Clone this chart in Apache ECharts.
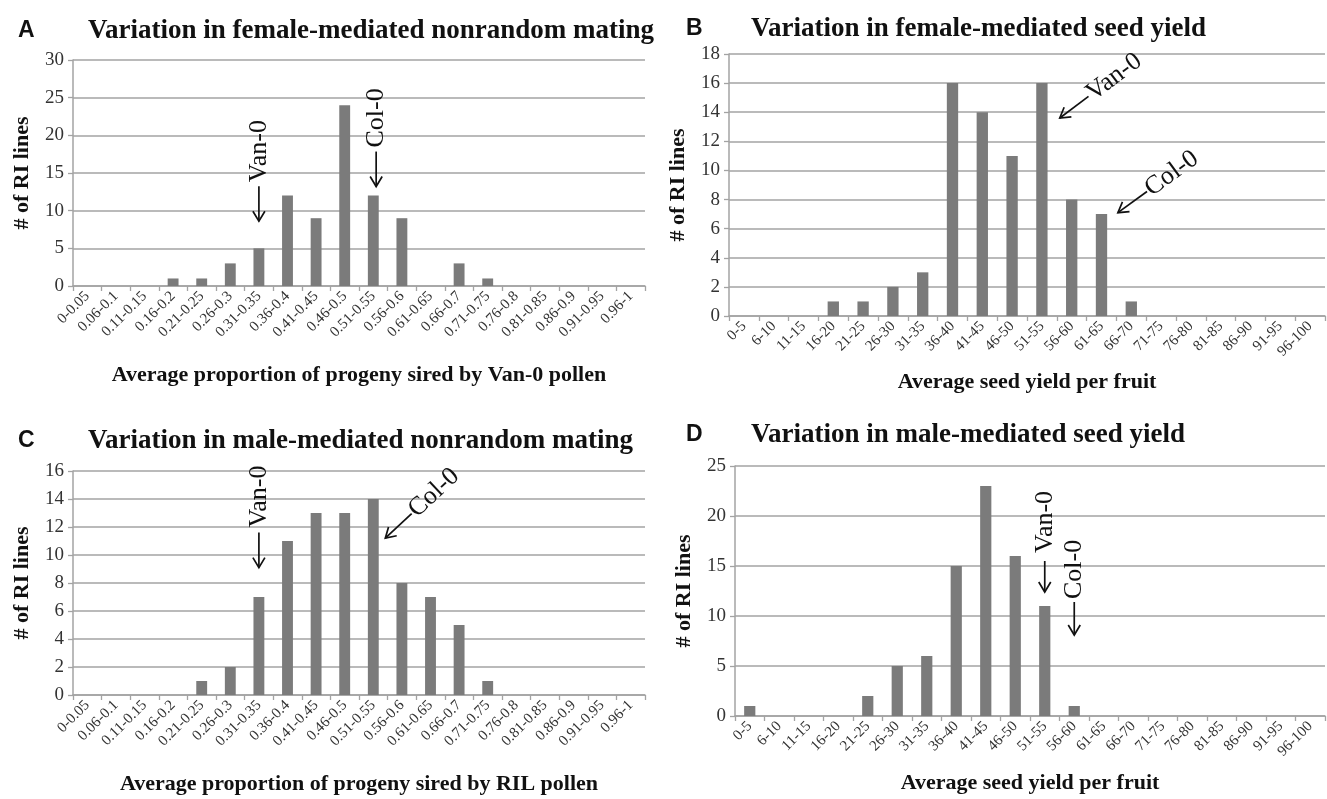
<!DOCTYPE html>
<html>
<head>
<meta charset="utf-8">
<script src="https://cdn.jsdelivr.net/npm/echarts@6/dist/echarts.min.js"></script>
<style>
html,body{margin:0;padding:0;background:#fff;}
#c{width:1327px;height:799px;}
</style>
</head>
<body>
<div id="c"></div>
<script>
// ---- data ----
const catsProportion = ['0-0.05','0.06-0.1','0.11-0.15','0.16-0.2','0.21-0.25','0.26-0.3','0.31-0.35','0.36-0.4','0.41-0.45','0.46-0.5','0.51-0.55','0.56-0.6','0.61-0.65','0.66-0.7','0.71-0.75','0.76-0.8','0.81-0.85','0.86-0.9','0.91-0.95','0.96-1'];
const catsSeed = ['0-5','6-10','11-15','16-20','21-25','26-30','31-35','36-40','41-45','46-50','51-55','56-60','61-65','66-70','71-75','76-80','81-85','86-90','91-95','96-100'];

const valuesA = [0,0,0,1,1,3,5,12,9,24,12,9,0,3,1,0,0,0,0,0];
const valuesB = [0,0,0,1,1,2,3,16,14,11,16,8,7,1,0,0,0,0,0,0];
const valuesC = [0,0,0,0,1,2,7,11,13,13,14,8,7,5,1,0,0,0,0,0];
const valuesD = [1,0,0,0,2,5,6,15,23,16,11,1,0,0,0,0,0,0,0,0];

const panelLetters = ['A','B','C','D'];
const panelTitles = [
  'Variation in female-mediated nonrandom mating',
  'Variation in female-mediated seed yield',
  'Variation in male-mediated nonrandom mating',
  'Variation in male-mediated seed yield'
];
const xTitles = [
  'Average proportion of progeny sired by Van-0 pollen',
  'Average seed yield per fruit',
  'Average proportion of progeny sired by RIL pollen',
  'Average seed yield per fruit'
];
const yTitle = '# of RI lines';
const yMax = [30, 18, 16, 25];
const yStep = [5, 2, 2, 5];

// annotations: panel, label, category, value the arrow points at
const annotations = [
  {panel:0, label:'Van-0', cat:'0.31-0.35', value:8.6},
  {panel:0, label:'Col-0', cat:'0.51-0.55', value:13.2},
  {panel:1, label:'Van-0', cat:'51-55', value:13.6},
  {panel:1, label:'Col-0', cat:'61-65', value:7.1},
  {panel:2, label:'Van-0', cat:'0.31-0.35', value:9.1},
  {panel:2, label:'Col-0', cat:'0.51-0.55', value:11.2},
  {panel:3, label:'Van-0', cat:'51-55', value:12.4},
  {panel:3, label:'Col-0', cat:'56-60', value:8.1}
];

// ---- layout / style ----
const SERIF = '"Liberation Serif", "Times New Roman", serif';
const SANS = '"Liberation Sans", Arial, sans-serif';
const GRID_COLOR = '#a3a3a3';
const BAR_COLOR = '#7b7b7b';

const grids = [
  {left:73, top:60, width:572, height:226},
  {left:729, top:54, width:596, height:262},
  {left:73, top:471, width:572, height:224},
  {left:735, top:466, width:590, height:250}
];
const letterPos = [[13,14],[681,12],[13,424],[681,418]];
const titlePos = [[83,13],[746,11],[83,423],[746,417]];
const xNameGap = [78, 55, 78, 56];
const catsFor = [catsProportion, catsSeed, catsProportion, catsSeed];
const valuesFor = [valuesA, valuesB, valuesC, valuesD];

const titles = [];
for (let i = 0; i < 4; i++) {
  titles.push({text: panelLetters[i], left: letterPos[i][0], top: letterPos[i][1],
    textStyle:{fontFamily:SANS, fontWeight:'bold', fontSize:23, color:'#111'}});
  titles.push({text: panelTitles[i], left: titlePos[i][0], top: titlePos[i][1],
    textStyle:{fontFamily:SERIF, fontWeight:'bold', fontSize:27, color:'#111'}});
}

const option = {
  animation:false,
  backgroundColor:'#ffffff',
  title: titles,
  grid: grids.map(g => Object.assign({containLabel:false}, g)),
  xAxis: catsFor.map((cats, i) => ({
    type:'category', gridIndex:i, data:cats, boundaryGap:true,
    axisLine:{show:true, lineStyle:{color:GRID_COLOR, width:1.5}},
    axisTick:{show:true, length:5, lineStyle:{color:GRID_COLOR, width:1.3}},
    axisLabel:{interval:0, rotate:45, fontFamily:SERIF, fontSize:15, color:'#333', margin:8},
    name: xTitles[i], nameLocation:'middle', nameGap:xNameGap[i],
    nameTextStyle:{fontFamily:SERIF, fontWeight:'bold', fontSize:22, color:'#111'}
  })),
  yAxis: yMax.map((m, i) => ({
    type:'value', gridIndex:i, min:0, max:m, interval:yStep[i],
    axisLine:{show:true, lineStyle:{color:GRID_COLOR, width:1.5}},
    axisTick:{show:true, length:5, lineStyle:{color:GRID_COLOR, width:1.3}},
    splitLine:{show:true, lineStyle:{color:GRID_COLOR, width:1.5}},
    axisLabel:{fontFamily:SERIF, fontSize:19, color:'#333', margin:9},
    name: yTitle, nameLocation:'middle', nameGap:40,
    nameTextStyle:{fontFamily:SERIF, fontWeight:'bold', fontSize:22, color:'#111'}
  })),
  series: valuesFor.map((vals, i) => ({
    type:'bar', xAxisIndex:i, yAxisIndex:i, data:vals, barWidth:'38%',
    itemStyle:{color:BAR_COLOR}, silent:true
  }))
};

const chart = echarts.init(document.getElementById('c'), null, {renderer:'canvas'});
chart.setOption(option);

// ---- arrows drawn at data positions ----
// style per annotation: rotation (deg, direction from tip to tail), horizontal shift in bands
const arrowStyle = [
  {ang:90, shift:0, len:35, gap:4},
  {ang:90, shift:0.1, len:35, gap:4},
  {ang:37, shift:0.6, len:36, gap:1},
  {ang:36, shift:0.55, len:36, gap:1},
  {ang:90, shift:0, len:35, gap:5},
  {ang:43, shift:0.42, len:36, gap:1},
  {ang:90, shift:0, len:31, gap:8},
  {ang:90, shift:0, len:33, gap:3}
];
const graphics = [];
annotations.forEach((a, k) => {
  const st = arrowStyle[k];
  const cats = catsFor[a.panel];
  const idx = cats.indexOf(a.cat);
  const p = chart.convertToPixel({seriesIndex:a.panel}, [idx, a.value]);
  const band = grids[a.panel].width / cats.length;
  const x = p[0] + st.shift * band;
  const y = p[1];
  graphics.push({
    type:'group', x:x, y:y, rotation: st.ang * Math.PI / 180, silent:true,
    children:[
      {type:'line', shape:{x1:0, y1:0, x2:st.len, y2:0}, style:{stroke:'#111', lineWidth:1.7}},
      {type:'polyline', shape:{points:[[10,-6],[0,0],[10,6]]}, style:{stroke:'#111', lineWidth:1.7, fill:null}},
      {type:'text', x:st.len + st.gap, y:0,
        style:{text:a.label, font:'26px ' + SERIF, fill:'#111', align:'left', verticalAlign:'middle', textAlign:'left', textVerticalAlign:'middle'}}
    ]
  });
});
chart.setOption({graphic: graphics});
</script>
</body>
</html>
